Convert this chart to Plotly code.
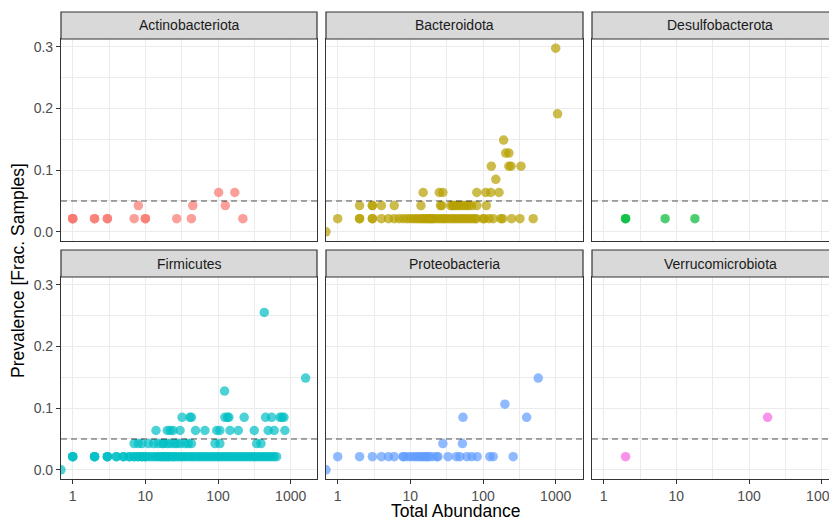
import plotly.graph_objects as go

# ---------------- data ----------------
# Each phylum: list of (prevalence, [total abundances of taxa at that prevalence])
phyla = ["Actinobacteriota", "Bacteroidota", "Desulfobacterota",
         "Firmicutes", "Proteobacteria", "Verrucomicrobiota"]
colors = ["#F8766D", "#B79F00", "#00BA38", "#00BFC4", "#619CFF", "#F564E3"]

actino = [
    (0.0213, [1, 1, 1, 2, 2, 3, 3, 7, 10, 10, 27, 43, 220]),
    (0.0426, [8, 45, 126]),
    (0.0638, [102, 170]),
]
bactero = [
    (0.0, [0]),
    (0.0213, [1, 2, 2, 3, 3, 4, 5, 6, 7, 8, 9, 10, 11, 12, 13, 14, 15, 16, 17, 18, 19, 20, 21, 23, 25,
              27, 29, 31, 34, 37, 40, 43, 47, 51, 55, 60, 65, 71, 77, 81, 100, 104, 121, 138, 176, 186,
              247, 322, 490]),
    (0.0426, [2, 3, 3, 4, 6, 14, 26, 27, 36, 38, 40, 43, 46, 50, 54, 59, 64, 70, 82, 111]),
    (0.0638, [15, 25, 28, 82, 109, 128, 166]),
    (0.0851, [150]),
    (0.1064, [130, 227, 243, 333]),
    (0.1277, [205, 227]),
    (0.1489, [192]),
    (0.1915, [1062]),
    (0.2979, [1000]),
]
desulfo = [
    (0.0213, [2, 2, 7, 18]),
]
firmi = [
    (0.0, [0]),
    (0.0213, [1, 1, 1, 2, 2, 2, 3, 3, 3, 4, 4, 5, 5, 6, 6, 7, 7, 8, 8, 9, 9, 10, 10, 11, 12, 13, 14, 15,
              16, 17, 18, 19, 20, 21, 22, 24, 25, 27, 29, 31, 33, 35, 38, 41, 44, 47, 51, 55, 59, 63, 68,
              73, 79, 85, 91, 98, 105, 113, 121, 130, 140, 150, 161, 173, 186, 200, 215, 231, 248, 267,
              287, 309, 332, 357, 384, 413, 444, 477, 513, 552, 593, 640]),
    (0.0426, [7, 8, 9, 11, 13, 15, 17, 18, 20, 22, 25, 27, 30, 35, 39, 43, 91, 106, 340, 390]),
    (0.0638, [14, 20, 22, 24, 30, 49, 66, 96, 106, 146, 190, 315, 490, 593, 832]),
    (0.0851, [32, 41, 43, 124, 135, 141, 229, 451, 546, 710, 760, 807]),
    (0.1277, [123]),
    (0.1489, [1603]),
    (0.2553, [433]),
]
proteo = [
    (0.0, [0]),
    (0.0213, [1, 2, 3, 4, 5, 6, 8, 8, 9, 10, 11, 12, 13, 14, 15, 16, 17, 18, 20, 23, 24, 33, 43, 48,
              60, 70, 83, 124, 138, 260]),
    (0.0426, [28, 52]),
    (0.0851, [53, 398]),
    (0.1064, [200]),
    (0.1489, [575]),
]
verruco = [
    (0.0213, [2]),
    (0.0851, [180]),
]
groups_by_phylum = [actino, bactero, desulfo, firmi, proteo, verruco]

threshold = 0.05
x_tickvals = [1, 10, 100, 1000]
x_ticktext = ["1", "10", "100", "1000"]
y_tickvals = [0.0, 0.1, 0.2, 0.3]
x_minor = [3.1623, 31.623, 316.23, 3162.3]
y_minor = [0.05, 0.15, 0.25]

# ---------------- layout geometry (figure pixels; page adds an 8px body margin) ----------------
W, H = 829, 512
ML, MR, MT, MB = 53, 0, 31, 41
PW = W - ML - MR
PH = H - MT - MB


def fx(px):
    return (px - ML) / PW


def fy(py):
    return (H - MB - py) / PH


col_px = [(53, 309), (318, 575), (584, 829)]
row_px = [(31, 233), (269, 471)]
strip_px = [(4, 31), (242, 269)]
STRIP3_RIGHT = 840

XL = -0.161
XSPAN = 3.523  # log10 span for a 256 px panel
YR = [-0.0149, 0.3128]

FONT = "Liberation Sans, Arial, sans-serif"
BORDER = "#333333"
GRID = "#EBEBEB"

fig = go.Figure()
layout = dict(
    width=W, height=H,
    margin=dict(l=ML, r=MR, t=MT, b=MB, pad=0, autoexpand=False),
    paper_bgcolor="white", plot_bgcolor="white",
    showlegend=False,
    font=dict(family=FONT, size=14, color="#4D4D4D"),
)
shapes = []
annotations = []

for i, name in enumerate(phyla):
    r, c = divmod(i, 3)
    k = "" if i == 0 else str(i + 1)
    x0p, x1p = col_px[c]
    y0p, y1p = row_px[r]
    xr_right = XL + XSPAN * (x1p - x0p) / 256.0
    xmin_val = 10 ** XL
    xs, ys = [], []
    for prev, abunds in groups_by_phylum[i]:
        for a in abunds:
            xs.append(a if a > 0 else xmin_val)  # zero abundance squished to panel edge
            ys.append(prev)
    fig.add_trace(go.Scatter(
        x=xs, y=ys, mode="markers",
        xaxis="x" + k, yaxis="y" + k,
        marker=dict(size=9.5, color=colors[i], opacity=0.7, line=dict(width=0)),
        cliponaxis=True, hoverinfo="skip",
    ))
    layout["xaxis" + k] = dict(
        type="log", range=[XL, xr_right], domain=[fx(x0p), min(1.0, fx(x1p))],
        anchor="y" + k, automargin=False, ticklabeloverflow="allow",
        tickvals=x_tickvals, ticktext=x_ticktext,
        showticklabels=(r == 1), ticks="outside" if r == 1 else "",
        ticklen=4, tickwidth=1.2, tickcolor=BORDER,
        tickfont=dict(size=14, color="#4D4D4D", family=FONT),
        showgrid=True, gridcolor=GRID, gridwidth=1.4,
        minor=dict(tickmode="array", tickvals=x_minor, showgrid=True,
                   gridcolor=GRID, gridwidth=0.8, ticks=""),
        showline=True, mirror=True, linecolor=BORDER, linewidth=1.2,
        zeroline=False, fixedrange=True,
    )
    layout["yaxis" + k] = dict(
        range=YR, domain=[fy(y1p), fy(y0p)], anchor="x" + k, automargin=False,
        tickvals=y_tickvals, tickformat=".1f",
        showticklabels=(c == 0), ticks="outside" if c == 0 else "",
        ticklen=4, tickwidth=1.2, tickcolor=BORDER,
        tickfont=dict(size=14, color="#4D4D4D", family=FONT),
        showgrid=True, gridcolor=GRID, gridwidth=1.4,
        minor=dict(tickmode="array", tickvals=y_minor, showgrid=True,
                   gridcolor=GRID, gridwidth=0.8, ticks=""),
        showline=True, mirror=True, linecolor=BORDER, linewidth=1.2,
        zeroline=False, fixedrange=True,
    )
    # threshold line
    shapes.append(dict(type="line", xref="x" + k + " domain", yref="y" + k,
                       x0=0, x1=1, y0=threshold, y1=threshold,
                       line=dict(color="rgba(0,0,0,0.45)", width=1.3, dash="6px,4px")))
    # strip
    s0, s1 = strip_px[r]
    sx1 = x1p if c < 2 else STRIP3_RIGHT
    shapes.append(dict(type="rect", xref="paper", yref="paper",
                       x0=fx(x0p), x1=fx(sx1), y0=fy(s1), y1=fy(s0),
                       fillcolor="#D9D9D9", line=dict(color=BORDER, width=1.2), layer="above"))
    annotations.append(dict(text=name, xref="paper", yref="paper",
                            x=fx((x0p + sx1) / 2), y=fy((s0 + s1) / 2),
                            xanchor="center", yanchor="middle", showarrow=False,
                            font=dict(size=14, color="#1A1A1A", family=FONT)))

annotations.append(dict(text="Total Abundance", xref="paper", yref="paper",
                        x=fx(447), y=fy(503), xanchor="center", yanchor="middle",
                        showarrow=False, font=dict(size=17.5, color="#000000", family=FONT)))
annotations.append(dict(text="Prevalence [Frac. Samples]", xref="paper", yref="paper",
                        x=fx(10), y=fy(263), xanchor="center", yanchor="middle", textangle=-90,
                        showarrow=False, font=dict(size=17.5, color="#000000", family=FONT)))

layout["shapes"] = shapes
layout["annotations"] = annotations
fig.update_layout(**layout)
fig.write_html("out.html")
